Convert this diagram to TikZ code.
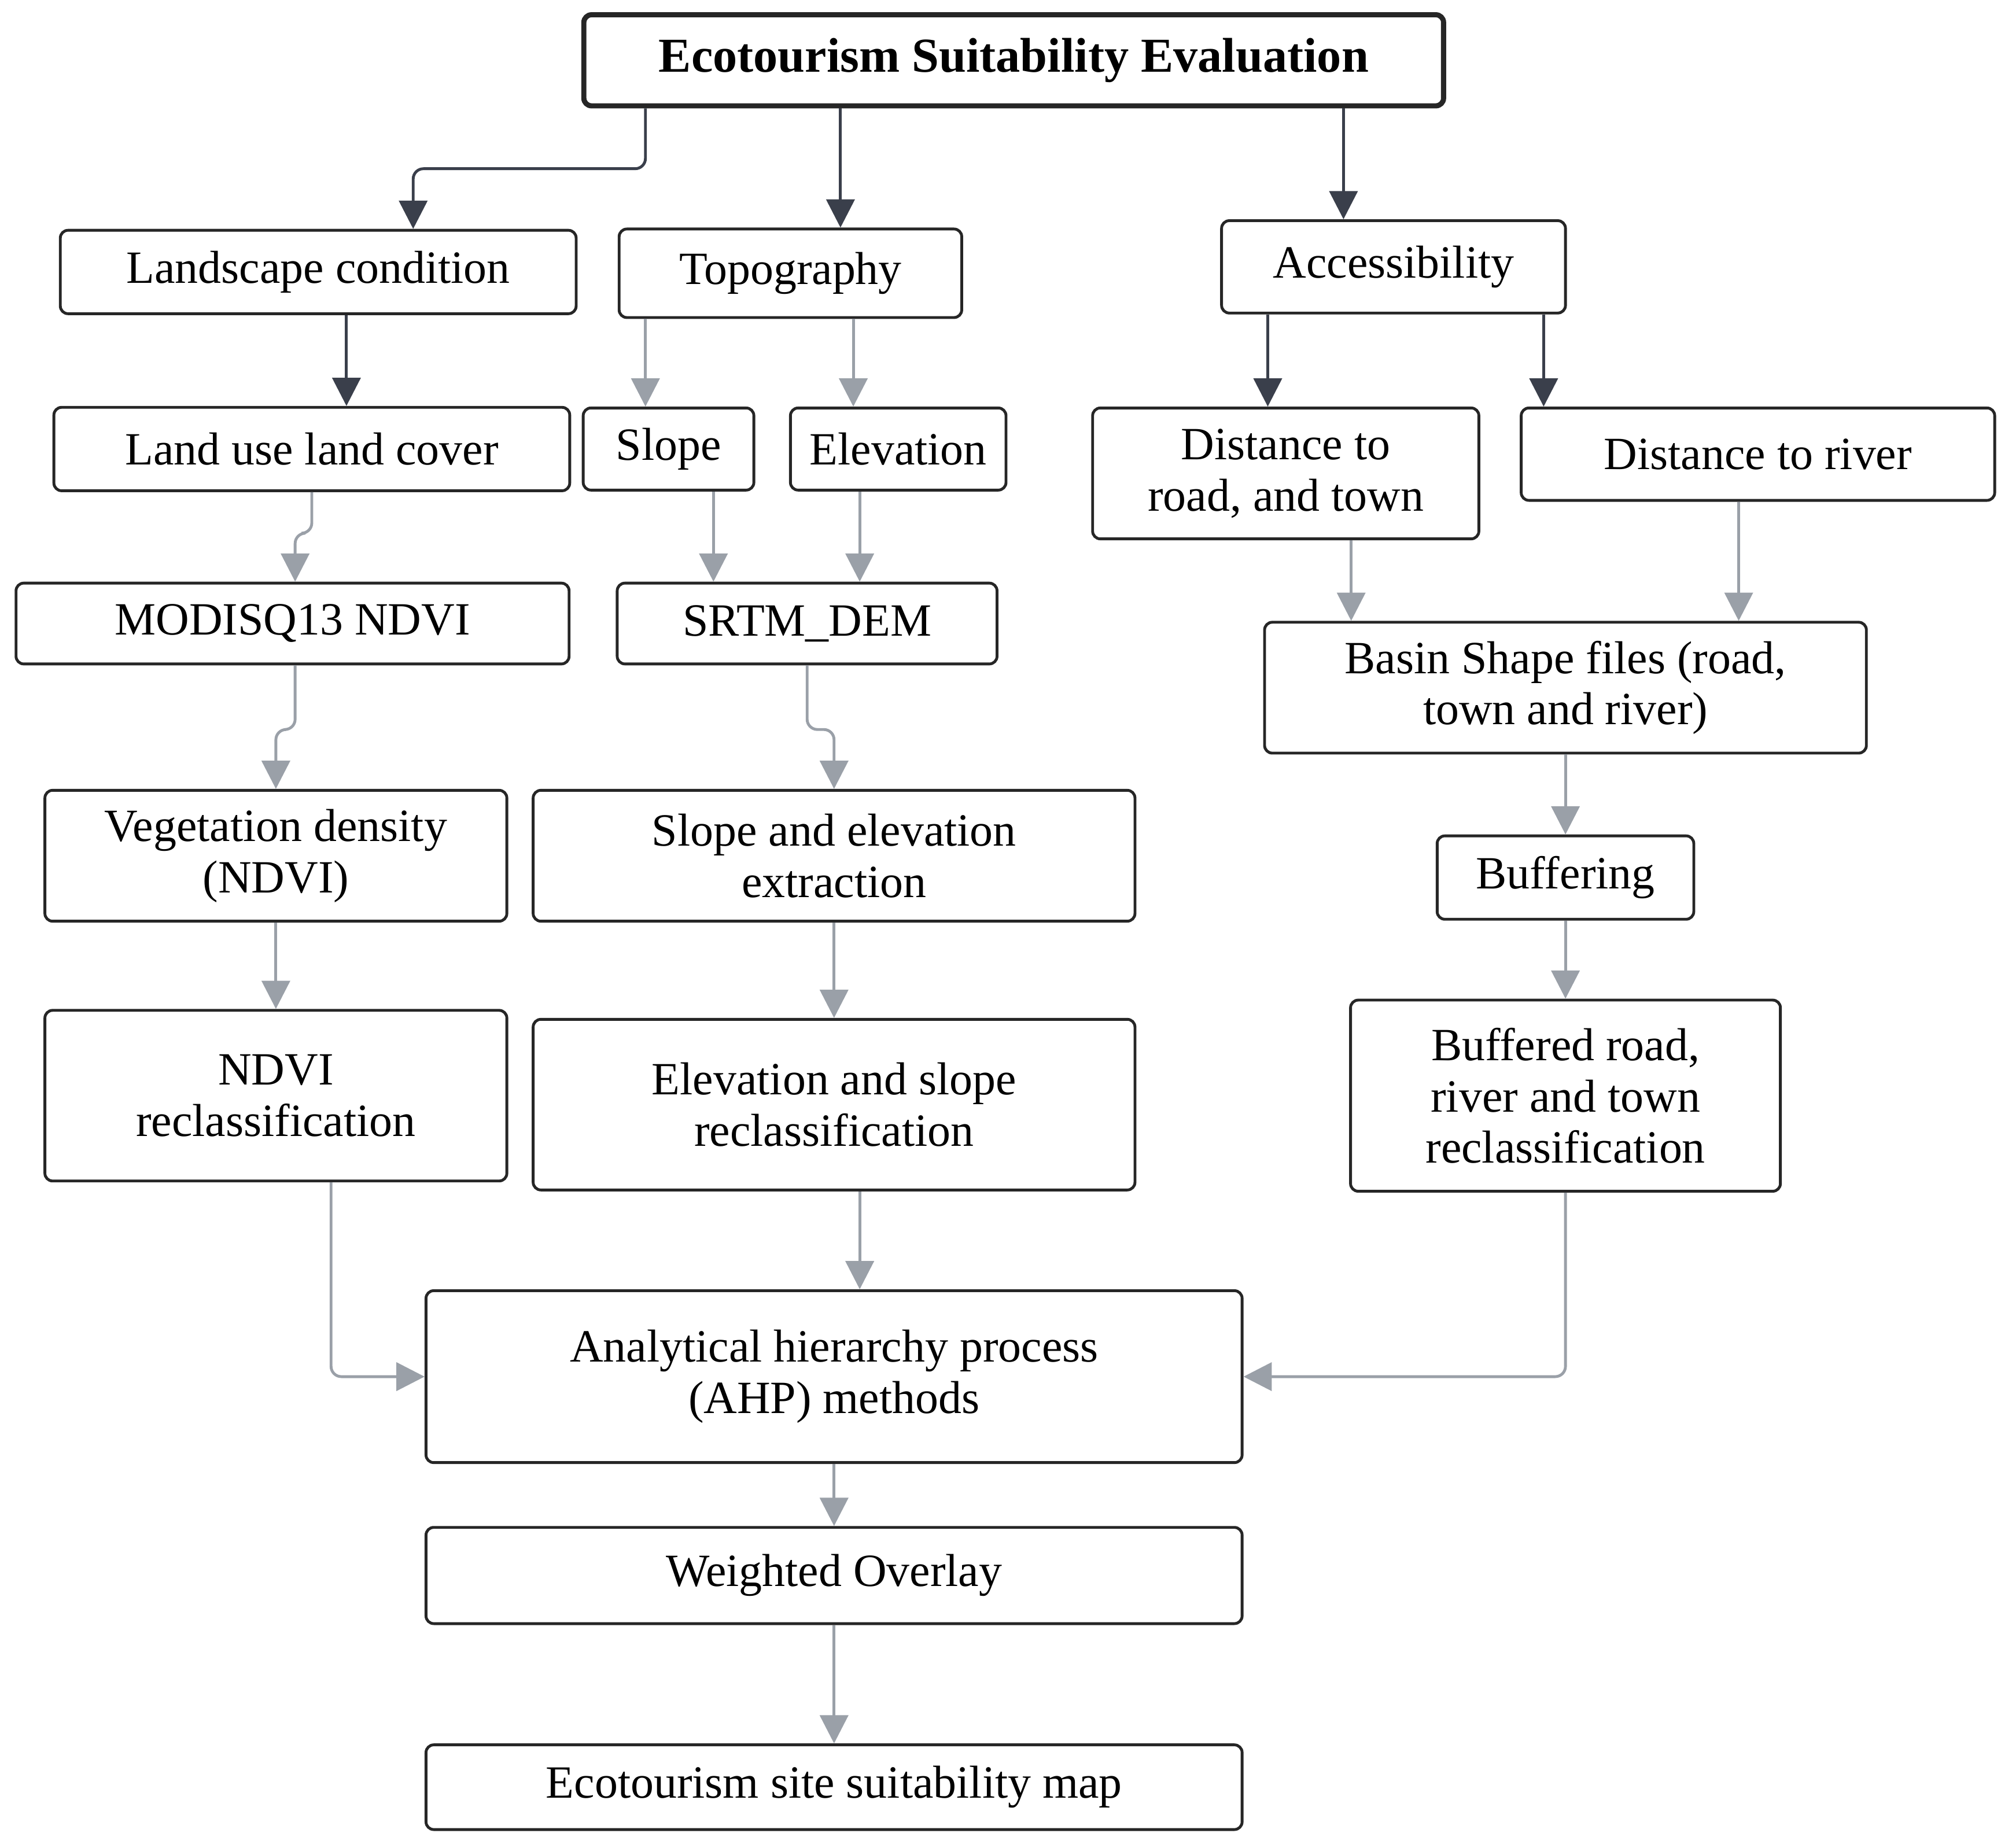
\documentclass[tikz,border=0pt]{standalone}
\usepackage{fontspec}
\setmainfont{Liberation Serif}
\usetikzlibrary{arrows.meta}
\definecolor{darkarr}{RGB}{58,63,75}
\definecolor{greyarr}{RGB}{154,160,168}
\tikzset{
  box/.style={draw=black!85, line width=1.1pt, rounded corners=3pt, align=center,
    font=\fontsize{18}{20}\selectfont, inner sep=2pt},
  darr/.style={draw=darkarr, line width=1.1pt, -{Triangle[length=11pt,width=11pt]}, rounded corners=4pt},
  garr/.style={draw=greyarr, line width=1.1pt, -{Triangle[length=11pt,width=11pt]}, rounded corners=4pt}
}
\begin{document}
\begin{tikzpicture}[x=0.5pt,y=0.5pt,yscale=-1]
\useasboundingbox (0,0) rectangle (1568,1440);

% first level
\node[box, line width=2pt, font=\fontsize{19}{20}\selectfont\bfseries, minimum width=335pt, minimum height=35.5pt] (eval) at (790,47) {Ecotourism Suitability Evaluation};
\node[box, minimum width=201pt, minimum height=32.5pt] (land) at (248,212) {Landscape condition};
\node[box, minimum width=133.5pt, minimum height=34.5pt] (topo) at (616,213) {Topography};
\node[box, minimum width=134pt, minimum height=36pt] (acc) at (1086,208) {Accessibility};

% second level
\node[box, minimum width=201pt, minimum height=32.5pt] (lulc) at (243,350) {Land use land cover};
\node[box, minimum width=66.5pt, minimum height=32pt] (slope) at (521,350) {Slope};
\node[box, minimum width=84pt, minimum height=32pt] (elev) at (700,350) {Elevation};
\node[box, minimum width=150.5pt, minimum height=51pt] (droad) at (1002,369) {Distance to\\road, and town};
\node[box, minimum width=184.5pt, minimum height=36pt] (driver) at (1370,354) {Distance to river};

% data
\node[box, minimum width=215.5pt, minimum height=31.5pt] (modis) at (228,486) {MODISQ13 NDVI};
\node[box, minimum width=148pt, minimum height=31.5pt] (srtm) at (629,486) {SRTM\_DEM};
\node[box, minimum width=234.5pt, minimum height=51pt] (basin) at (1220,536) {Basin Shape files (road,\\town and river)};

% processing
\node[box, minimum width=180pt, minimum height=51pt] (veg) at (215,667) {Vegetation density\\(NDVI)};
\node[box, minimum width=234.5pt, minimum height=51pt] (extr) at (650,667) {Slope and elevation\\extraction};
\node[box, minimum width=100pt, minimum height=32.5pt] (buf) at (1220,684) {Buffering};

% reclassification
\node[box, minimum width=180pt, minimum height=66.5pt] (ndvirc) at (215,854) {NDVI\\reclassification};
\node[box, minimum width=234.5pt, minimum height=66.5pt] (elevrc) at (650,861) {Elevation and slope\\reclassification};
\node[box, minimum width=167.5pt, minimum height=74.5pt] (bufrc) at (1220,854) {Buffered road,\\river and town\\reclassification};

% final
\node[box, minimum width=318pt, minimum height=67pt] (ahp) at (650,1073) {Analytical hierarchy process\\(AHP) methods};
\node[box, minimum width=318pt, minimum height=37.5pt] (wo) at (650,1228) {Weighted Overlay};
\node[box, minimum width=318pt, minimum height=33pt] (map) at (650,1393) {Ecotourism site suitability map};

% connectors
\draw[darr] ([xshift=-143.5pt]eval.south) -- ++(0,47) -| ([xshift=37pt]land.north);
\draw[darr] ([xshift=-67.5pt]eval.south) -- ([xshift=19.5pt]topo.north);
\draw[darr] ([xshift=128.5pt]eval.south) -- ([xshift=-19.5pt]acc.north);
\draw[darr] ([xshift=11pt]land.south) -- ([xshift=13.5pt]lulc.north);
\draw[garr] ([xshift=-56.5pt]topo.south) -- ([xshift=-9pt]slope.north);
\draw[garr] ([xshift=24.5pt]topo.south) -- ([xshift=-17.5pt]elev.north);
\draw[darr] ([xshift=-49pt]acc.south) -- ([xshift=-7pt]droad.north);
\draw[darr] ([xshift=58.5pt]acc.south) -- ([xshift=-83.5pt]driver.north);
\draw[garr] (lulc.south) -- ++(0,32) -| ([xshift=1pt]modis.north);
\draw[garr] ([xshift=17.5pt]slope.south) -- ([xshift=-36.5pt]srtm.north);
\draw[garr] ([xshift=-15pt]elev.south) -- ([xshift=20.5pt]srtm.north);
\draw[garr] ([xshift=25.5pt]droad.south) -- ([xshift=-83.5pt]basin.north);
\draw[garr] ([xshift=-7.5pt]driver.south) -- ([xshift=67.5pt]basin.north);
\draw[garr] ([xshift=1pt]modis.south) -- ++(0,50) -| (veg.north);
\draw[garr] (srtm.south) -- ++(0,50) -| (extr.north);
\draw[garr] (basin.south) -- (buf.north);
\draw[garr] (veg.south) -- (ndvirc.north);
\draw[garr] (buf.south) -- (bufrc.north);
\draw[garr] (extr.south) -- (elevrc.north);
\draw[garr] ([xshift=21.5pt]ndvirc.south) |- (ahp.west);
\draw[garr] ([xshift=10pt]elevrc.south) -- ([xshift=10pt]ahp.north);
\draw[garr] (bufrc.south) |- (ahp.east);
\draw[garr] (ahp.south) -- (wo.north);
\draw[garr] (wo.south) -- (map.north);
\end{tikzpicture}
\end{document}
